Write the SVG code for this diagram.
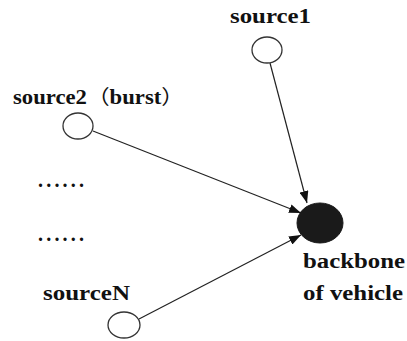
<svg xmlns="http://www.w3.org/2000/svg" width="407" height="341" viewBox="0 0 407 341">
  <style>
    .src { fill: #fff; stroke: #333; stroke-width: 1.3; }
    .sink { fill: #1a1a1a; stroke: #1a1a1a; stroke-width: 1; }
    .edge { stroke: #222; stroke-width: 1.2; fill: none; marker-end: url(#arrow); }
  </style>
  <defs>
    <marker id="arrow" viewBox="0 0 12 9" refX="12" refY="4.5" markerWidth="12" markerHeight="9" markerUnits="userSpaceOnUse" orient="auto">
      <path d="M0,0 L12,4.5 L0,9 Z" fill="#111"/>
    </marker>
  </defs>
  <rect width="407" height="341" fill="#fff"/>

  <g id="connectors">
    <line class="edge" x1="270" y1="63" x2="307" y2="203"/>
    <line class="edge" x1="93" y1="131" x2="301" y2="213"/>
    <line class="edge" x1="139" y1="319" x2="301" y2="235"/>
  </g>

  <g font-family="Liberation Serif, DejaVu Serif, serif" font-weight="bold" font-size="20" fill="#111">
    <g id="source1">
      <ellipse class="src" cx="267" cy="50" rx="15" ry="13"/>
      <text x="230" y="23" textLength="81" lengthAdjust="spacingAndGlyphs">source1</text>
    </g>

    <g id="source2">
      <ellipse class="src" cx="78" cy="126" rx="15" ry="13"/>
      <text x="13" y="104" textLength="171" lengthAdjust="spacingAndGlyphs">source2<tspan font-family="Noto Sans CJK SC, sans-serif" font-weight="normal">（</tspan>burst<tspan font-family="Noto Sans CJK SC, sans-serif" font-weight="normal">）</tspan></text>
    </g>

    <g id="ellipsis">
      <text x="38" y="187" textLength="46" lengthAdjust="spacing">......</text>
      <text x="38" y="241" textLength="46" lengthAdjust="spacing">......</text>
    </g>

    <g id="sourceN">
      <ellipse class="src" cx="124" cy="325" rx="16" ry="13"/>
      <text x="43" y="300" textLength="87" lengthAdjust="spacingAndGlyphs">sourceN</text>
    </g>

    <g id="backbone">
      <ellipse class="sink" cx="320" cy="223" rx="23" ry="20"/>
      <text x="303" y="268" textLength="102" lengthAdjust="spacingAndGlyphs">backbone</text>
      <text x="303" y="300" textLength="100" lengthAdjust="spacingAndGlyphs">of vehicle</text>
    </g>
  </g>
</svg>
